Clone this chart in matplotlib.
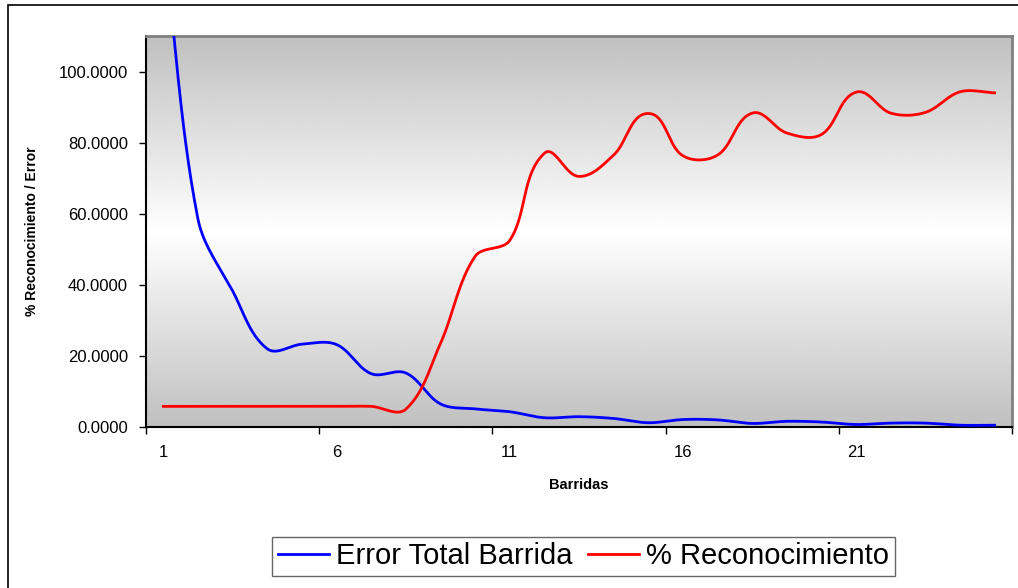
import numpy as np
import matplotlib
matplotlib.use("Agg")
from matplotlib import pyplot as plt
from matplotlib.patches import Rectangle

plt.rcParams["font.family"] = ["Liberation Sans", "DejaVu Sans"]

barridas = list(range(1, 26))
error_total = [138.0, 58.5, 38.3, 22.0, 23.3, 23.2, 15.0, 15.2, 6.5, 5.1,
               4.3, 2.6, 2.9, 2.4, 1.2, 2.1, 2.0, 1.0, 1.6, 1.4,
               0.7, 1.1, 1.1, 0.5, 0.5]
reconocimiento = [5.8, 5.8, 5.8, 5.8, 5.8, 5.8, 5.8, 5.0, 23.5, 48.0,
                  52.5, 77.0, 70.5, 76.5, 88.2, 76.3, 76.5, 88.3, 82.7, 82.3,
                  94.2, 88.3, 88.5, 94.3, 94.0]

blue_color = "#0000FF"
red_color = "#FF0000"

# pixel size of one category / one y unit, used so the smoothing works in screen space
sx, sy = 34.64, 3.55


def smooth_line(x, y, n=30):
    # bezier smoothing like the spreadsheet "smoothed line": tangent from the
    # neighbours, handle length a third of each adjacent segment
    p = np.column_stack([np.asarray(x, float) * sx, np.asarray(y, float) * sy])
    k = len(p)
    seg = np.linalg.norm(np.diff(p, axis=0), axis=1)
    tang = np.zeros_like(p)
    tang[1:-1] = p[2:] - p[:-2]
    tang[0] = p[1] - p[0]
    tang[-1] = p[-1] - p[-2]
    tang = tang / np.linalg.norm(tang, axis=1)[:, None]
    t = np.linspace(0, 1, n, endpoint=False)[:, None]
    out = []
    for i in range(k - 1):
        c0 = p[i]
        c1 = p[i] + tang[i] * seg[i] / 3
        c2 = p[i + 1] - tang[i + 1] * seg[i] / 3
        c3 = p[i + 1]
        out.append((1 - t)**3 * c0 + 3 * (1 - t)**2 * t * c1 + 3 * (1 - t) * t**2 * c2 + t**3 * c3)
    out.append(p[-1:])
    out = np.concatenate(out)
    return out[:, 0] / sx, out[:, 1] / sy


fig = plt.figure(figsize=(10.18, 5.88), dpi=100)
ax = fig.add_axes([146 / 1018, 161 / 588, 866 / 1018, 391 / 588])

# gray -> white -> gray background of the plot area
g = np.linspace(0, 1, 256)
shade = 0.753 + (1 - 0.753) * (1 - np.abs(2 * g - 1))
ax.imshow(np.repeat(shade[:, None], 2, axis=1), cmap="gray", vmin=0, vmax=1,
          extent=[0, 1, 0, 1], transform=ax.transAxes, aspect="auto", zorder=0)

bx, by = smooth_line(barridas, error_total)
rx, ry = smooth_line(barridas, reconocimiento)
ax.plot(bx, by, color=blue_color, lw=2.0, label="Error Total Barrida", zorder=3)
ax.plot(rx, ry, color=red_color, lw=2.0, label="% Reconocimiento", zorder=3)

ax.set_xlim(0.5, 25.5)
ax.set_ylim(0, 110)
ax.set_yticks([0, 20, 40, 60, 80, 100])
ax.set_yticklabels(["%.4f" % v for v in [0, 20, 40, 60, 80, 100]], fontsize=12)
ax.set_xticks([0.5, 5.5, 10.5, 15.5, 20.5, 25.5])
ax.set_xticklabels([])
ax.set_xticks([1, 6, 11, 16, 21], minor=True)
ax.set_xticklabels(["1", "6", "11", "16", "21"], minor=True, fontsize=12)
ax.tick_params(axis="x", which="major", length=5, width=1, direction="out")
ax.tick_params(axis="x", which="minor", length=0, pad=13)
ax.tick_params(axis="y", length=5, width=1, direction="out", pad=8)

for side in ["left", "bottom"]:
    ax.spines[side].set_color("black")
    ax.spines[side].set_linewidth(1.5)
for side in ["top", "right"]:
    ax.spines[side].set_color("#808080")
    ax.spines[side].set_linewidth(2)

ax.set_xlabel("Barridas", fontsize=10.5, fontweight="bold", labelpad=13)
ax.set_ylabel("% Reconocimiento / Error", fontsize=10, fontweight="bold", labelpad=14)

fig.legend(loc="center", bbox_to_anchor=(583.5 / 1018, 31.5 / 588), ncol=2,
           fontsize=21, frameon=True, fancybox=False, edgecolor="#404040",
           handlelength=1.75, handletextpad=0.25, columnspacing=0.5,
           borderpad=0.2, borderaxespad=0)

# outer chart border
fig.patches.append(Rectangle((8 / 1018, -0.1), 1.2, (583 / 588) + 0.1,
                             transform=fig.transFigure, fill=False,
                             edgecolor="black", lw=1.2))

plt.savefig("out.png", dpi=100)
